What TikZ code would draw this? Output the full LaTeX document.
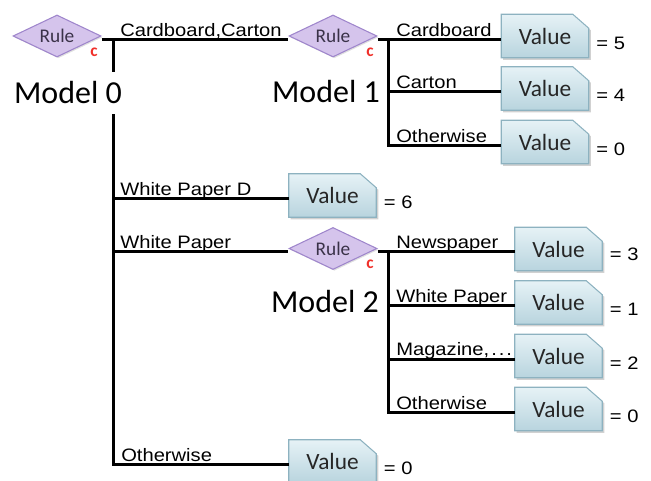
\documentclass[tikz,border=0pt]{standalone}
\usepackage{fontspec}
\setmainfont{Carlito}
\newfontfamily\lblfont[FakeStretch=1.12]{Liberation Sans}
\usetikzlibrary{shapes.geometric,calc,backgrounds,shadows}
\definecolor{rulefill}{HTML}{D5C4EC}
\definecolor{ruleborder}{HTML}{9F86CC}
\definecolor{ruletext}{HTML}{3A3248}
\definecolor{valtop}{HTML}{E6F2F6}
\definecolor{valbot}{HTML}{B8D4DE}
\definecolor{valborder}{HTML}{8DB2C0}
\definecolor{valtext}{HTML}{262626}
\definecolor{cred}{HTML}{F0302A}
\tikzset{
  rulenode/.style={diamond, aspect=2, draw=ruleborder, line width=0.8pt, fill=rulefill,
    minimum width=66pt, minimum height=31.5pt, inner sep=0pt, text=ruletext,
    font=\fontsize{14.5}{14.5}\selectfont,
    drop shadow={opacity=0.25, shadow xshift=1pt, shadow yshift=-1pt}},
  valnode/.style={rectangle, minimum width=65.25pt, minimum height=32.25pt, inner sep=0pt,
    text=valtext, font=\fontsize{17.5}{17.5}\selectfont},
  modelnode/.style={inner sep=0pt, minimum height=31.5pt, font=\fontsize{24}{24}\selectfont},
  lbl/.style={anchor=base west, inner sep=0pt, font=\lblfont\fontsize{13.5}{13.5}\selectfont},
  eqlbl/.style={anchor=center, inner sep=0pt, font=\lblfont\fontsize{13.5}{13.5}\selectfont},
  cmark/.style={inner sep=0pt, text=cred, font=\bfseries\fontsize{13}{13}\selectfont},
  conn/.style={line width=2.25pt, line join=miter},
}
\newcommand\valshape[1]{%
  \fill[black,opacity=0.18] ($(#1.south west)+(2,2)$) -- ($(#1.north west)+(2,2)$)
    -- ($(#1.north east)+(-14,2)$) -- ($(#1.north east)+(2,16)$) -- ($(#1.south east)+(2,2)$) -- cycle;
  \draw[valborder, line width=0.8pt, top color=valtop, bottom color=valbot]
    (#1.south west) -- (#1.north west) -- ($(#1.north east)+(-16,0)$)
    -- ($(#1.north east)+(0,14)$) -- (#1.south east) -- cycle;}
\begin{document}
\begin{tikzpicture}[x=0.75pt,y=-0.75pt]
\useasboundingbox (0,0) rectangle (651,481);
% rule diamonds
\node[rulenode] (rule0) at (57,36) {Rule};
\node[rulenode] (rule1) at (333,36) {Rule};
\node[rulenode] (rule2) at (333,248.5) {Rule};
\node[cmark] (c0) at ($(rule0.center)+(37,16)$) {c};
\node[cmark] (c1) at ($(rule1.center)+(37,16)$) {c};
\node[cmark] (c2) at ($(rule2.center)+(37,16)$) {c};
% model titles
\node[modelnode] (model0) at (68,93) {Model 0};
\node[modelnode] (model1) at (326,92) {Model 1};
\node[modelnode] (model2) at (325,302) {Model 2};
% value boxes
\node[valnode] (v1a) at (545,36) {Value};
\node[valnode] (v1b) at (545,88.5) {Value};
\node[valnode] (v1c) at (545,142) {Value};
\node[valnode] (vD) at (332.5,195.5) {Value};
\node[valnode] (v2a) at (558.5,249) {Value};
\node[valnode] (v2b) at (558.5,302.5) {Value};
\node[valnode] (v2c) at (558.5,356) {Value};
\node[valnode] (v2d) at (558.5,409) {Value};
\node[valnode] (vO) at (332.5,461.5) {Value};
\begin{pgfonlayer}{background}
\valshape{v1a}\valshape{v1b}\valshape{v1c}\valshape{vD}
\valshape{v2a}\valshape{v2b}\valshape{v2c}\valshape{v2d}\valshape{vO}
\end{pgfonlayer}
% equals
\node[eqlbl] (e1a) at ($(v1a.east)+(22,7)$) {= 5};
\node[eqlbl] (e1b) at ($(v1b.east)+(22,7)$) {= 4};
\node[eqlbl] (e1c) at ($(v1c.east)+(22,7)$) {= 0};
\node[eqlbl] (eD) at ($(vD.east)+(22,7)$) {= 6};
\node[eqlbl] (e2a) at ($(v2a.east)+(22,5)$) {= 3};
\node[eqlbl] (e2b) at ($(v2b.east)+(22,7)$) {= 1};
\node[eqlbl] (e2c) at ($(v2c.east)+(22,7)$) {= 2};
\node[eqlbl] (e2d) at ($(v2d.east)+(22,7)$) {= 0};
\node[eqlbl] (eO) at ($(vO.east)+(22,7)$) {= 0};
% junction coordinates
\coordinate (j0) at (113,40);
\coordinate (j1) at (388,40);
\coordinate (j2) at (388,252);
\coordinate (b0wpd) at (113,199);
\coordinate (b0wp) at (113,252);
\coordinate (b0oth) at (113,465);
\coordinate (b1car) at (388,92);
\coordinate (b1oth) at (388,146);
\coordinate (b2wp) at (388,306);
\coordinate (b2mag) at (388,359.5);
\coordinate (b2oth) at (388,413);
% connectors
\draw[conn] (rule0.east |- j0) -- (rule1.west |- j0);
\draw[conn] (j0) -- (j0 |- model0.north);
\draw[conn] (j0 |- model0.south) -- (b0oth) -- (vO.west |- b0oth);
\draw[conn] (b0wpd) -- (vD.west |- b0wpd);
\draw[conn] (b0wp) -- (rule2.west |- b0wp);
\draw[conn] (rule1.east |- j1) -- (v1a.west |- j1);
\draw[conn] (j1) -- (b1oth) -- (v1c.west |- b1oth);
\draw[conn] (b1car) -- (v1b.west |- b1car);
\draw[conn] (rule2.east |- j2) -- (v2a.west |- j2);
\draw[conn] (j2) -- (b2oth) -- (v2d.west |- b2oth);
\draw[conn] (b2wp) -- (v2b.west |- b2wp);
\draw[conn] (b2mag) -- (v2c.west |- b2mag);
% labels
\node[lbl] (l0a) at (120,36.5) {Cardboard,Carton};
\node[lbl] (l1a) at (396,36.5) {Cardboard};
\node[lbl] (l1b) at (396,88.5) {Carton};
\node[lbl] (l1c) at (396,142.5) {Otherwise};
\node[lbl] (l0b) at (120,195.5) {White Paper D};
\node[lbl] (l0c) at (120,248.5) {White Paper};
\node[lbl] (l0d) at (121,461.5) {Otherwise};
\node[lbl] (l2a) at (396,248.5) {Newspaper};
\node[lbl] (l2b) at (396,302.5) {White Paper};
\node[lbl] (l2c) at (396,356) {Magazine,\hspace{1.5pt}.\hspace{1.5pt}.\hspace{1.5pt}.};
\node[lbl] (l2d) at (396,409.5) {Otherwise};
\end{tikzpicture}
\end{document}
